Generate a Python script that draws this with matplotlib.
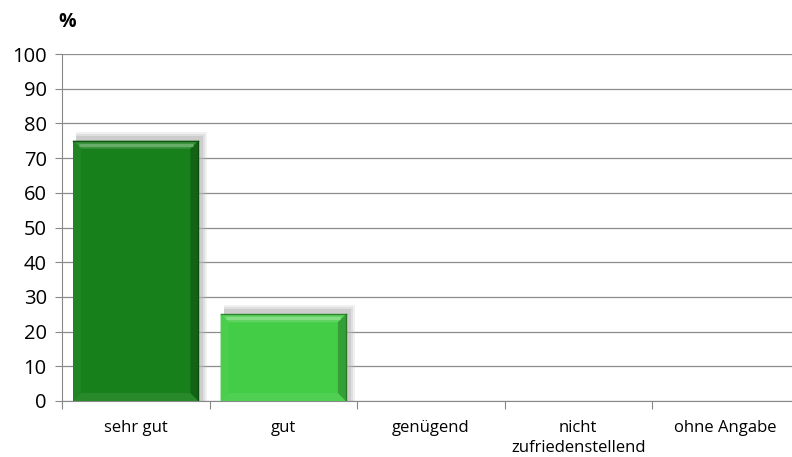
import matplotlib
matplotlib.use("Agg")
import matplotlib.pyplot as plt
from matplotlib.patches import Polygon, Rectangle
import matplotlib.colors as mcolors

categories = ["sehr gut", "gut", "genügend", "nicht\nzufriedenstellend", "ohne Angabe"]
values = [75, 25, 0, 0, 0]
colors = ["#17801a", "#43cc45", "#43cc45", "#43cc45", "#43cc45"]

plt.rcParams["font.family"] = ["Open Sans", "DejaVu Sans"]

W, H = 792, 457
fig = plt.figure(figsize=(W / 100, H / 100), dpi=100)
ax = fig.add_axes([62 / W, (H - 401) / H, (799.5 - 62) / W, 347 / H])

ax.set_xlim(-0.5, len(categories) - 0.5)
ax.set_ylim(0, 100)

# pixel -> data scale factors
px_x = (len(categories)) / 737.5
px_y = 100 / 347.0


def shade(c, f):
    r, g, b = mcolors.to_rgb(c)
    if f >= 0:
        return (r + (1 - r) * f, g + (1 - g) * f, b + (1 - b) * f)
    return (r * (1 + f), g * (1 + f), b * (1 + f))


width = 0.85
for i, (v, c) in enumerate(zip(values, colors)):
    if v <= 0:
        continue
    x0, x1 = i - width / 2, i + width / 2
    # soft shadow
    for k, a in [(9, 0.2), (7, 0.3), (5, 0.45)]:
        ax.add_patch(Rectangle((x0 + 3 * px_x, 0), (x1 - x0) + (k - 3) * px_x, v + k * px_y,
                               facecolor="#b8b8b8", alpha=a, edgecolor="none", zorder=2))
    ax.bar(i, v, width=width, color=c, edgecolor="none", zorder=3)
    dx, dy = 8 * px_x, 8 * px_y
    top = [(x0, v), (x1, v), (x1 - dx, v - dy), (x0 + dx, v - dy)]
    right = [(x1, v), (x1, 0), (x1 - dx, dy), (x1 - dx, v - dy)]
    bottom = [(x0, 0), (x1, 0), (x1 - dx, dy), (x0 + dx, dy)]
    left = [(x0, 0), (x0, v), (x0 + dx, v - dy), (x0 + dx, dy)]
    ax.add_patch(Polygon(top, closed=True, facecolor=shade(c, 0.15), edgecolor="none", zorder=4))
    ax.add_patch(Polygon(bottom, closed=True, facecolor=shade(c, 0.07), edgecolor="none", zorder=4))
    ax.add_patch(Polygon(left, closed=True, facecolor=shade(c, 0.04), edgecolor="none", zorder=4))
    ax.add_patch(Polygon(right, closed=True, facecolor=shade(c, -0.22), edgecolor="none", zorder=4))
    # highlight line in top bevel
    ax.plot([x0 + dx * 0.7, x1 - dx * 0.7], [v - dy * 0.5, v - dy * 0.5],
            color=shade(c, 0.35), lw=2.2, zorder=5, solid_capstyle="butt")
    ax.plot([x0, x1], [v, v], color=shade(c, -0.35), lw=1, zorder=5)
    ax.plot([x1, x1], [0, v], color=shade(c, -0.4), lw=1, zorder=5)

ax.set_yticks(range(0, 101, 10))
ax.tick_params(axis="y", labelsize=14.5, length=5, color="#888888", pad=6)
ax.yaxis.grid(True, color="#8c8c8c", lw=0.9)
ax.set_axisbelow(True)

ax.set_xticks([i + 0.5 for i in range(-1, len(categories))])
ax.set_xticklabels([])
ax.tick_params(axis="x", length=6, color="#888888")
ax.set_xticks(range(len(categories)), minor=True)
ax.set_xticklabels(categories, minor=True, fontsize=12, linespacing=1.3)
ax.tick_params(axis="x", which="minor", length=0, pad=14)
for lbl in ax.get_xticklabels(minor=True):
    lbl.set_verticalalignment("top")

for s in ["top", "right"]:
    ax.spines[s].set_visible(False)
ax.spines["left"].set_color("#888888")
ax.spines["bottom"].set_color("#888888")

fig.text(67 / W, 1 - 22 / H, "%", fontsize=14, fontweight="bold", ha="center", va="center")

fig.savefig("out.png", dpi=100)
